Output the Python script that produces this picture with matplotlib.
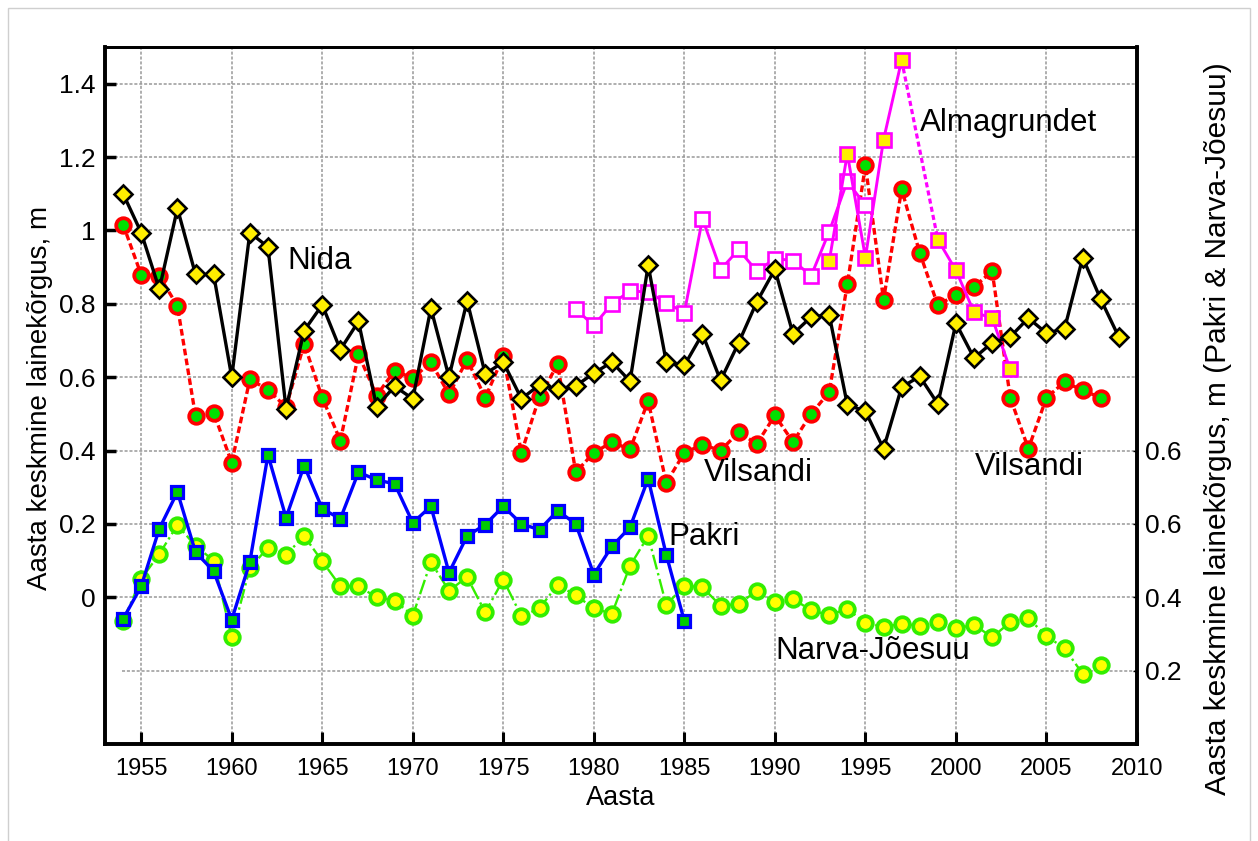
import numpy as np
import matplotlib
matplotlib.use("Agg")
import matplotlib.pyplot as plt
from matplotlib import font_manager
from matplotlib.patches import Rectangle

# ---------------- data ----------------
nida_years = list(range(1954, 2010))
nida = [1.10, 0.994, 0.84, 1.06, 0.88, 0.88, 0.60, 0.994, 0.955, 0.514,
        0.727, 0.797, 0.675, 0.752, 0.52, 0.575, 0.541, 0.788, 0.60, 0.808,
        0.609, 0.641, 0.541, 0.579, 0.568, 0.576, 0.611, 0.641, 0.589, 0.905,
        0.641, 0.632, 0.718, 0.591, 0.694, 0.805, 0.894, 0.718, 0.764, 0.77,
        0.525, 0.507, 0.405, 0.573, 0.602, 0.527, 0.747, 0.652, 0.694, 0.71,
        0.761, 0.72, 0.732, 0.926, 0.812, 0.709]

vilsandi_years = list(range(1954, 2009))
vilsandi = [1.016, 0.879, 0.876, 0.794, 0.494, 0.503, 0.367, 0.594, 0.566, 0.518,
            0.691, 0.544, 0.427, 0.662, 0.55, 0.618, 0.597, 0.641, 0.553, 0.648,
            0.544, 0.657, 0.394, 0.547, 0.635, 0.341, 0.394, 0.423, 0.403, 0.535,
            0.312, 0.394, 0.416, 0.40, 0.45, 0.418, 0.496, 0.423, 0.50, 0.559,
            0.853, 1.177, 0.811, 1.112, 0.939, 0.796, 0.825, 0.846, 0.889, 0.544,
            0.405, 0.544, 0.587, 0.564, 0.544]

alma1_years = list(range(1979, 1996))
alma1 = [0.785, 0.741, 0.80, 0.835, 0.832, 0.803, 0.776, 1.032, 0.893, 0.948,
         0.889, 0.923, 0.918, 0.876, 0.997, 1.134, 1.068]

alma2_years = list(range(1993, 2004))
alma2 = [0.916, 1.209, 0.926, 1.247, 1.464, np.nan, 0.975, 0.891, 0.777, 0.761, 0.621]
alma2_gap_years = [1997, 1999]

# right axis (Pakri & Narva-Jõesuu)
pakri_years = list(range(1954, 1986))
pakri = [0.341, 0.430, 0.587, 0.687, 0.523, 0.471, 0.339, 0.496, 0.788, 0.617,
         0.759, 0.641, 0.614, 0.741, 0.72, 0.709, 0.603, 0.648, 0.467, 0.567,
         0.598, 0.648, 0.60, 0.584, 0.636, 0.60, 0.462, 0.539, 0.591, 0.723,
         0.516, 0.335]

narva_years = list(range(1954, 2009))
narva = [0.335, 0.45, 0.518, 0.597, 0.54, 0.50, 0.291, 0.48, 0.535, 0.516,
         0.567, 0.498, 0.43, 0.43, 0.40, 0.391, 0.35, 0.496, 0.418, 0.455,
         0.359, 0.448, 0.348, 0.37, 0.434, 0.405, 0.37, 0.355, 0.486, 0.567,
         0.379, 0.432, 0.427, 0.377, 0.382, 0.417, 0.388, 0.396, 0.364, 0.352,
         0.368, 0.33, 0.32, 0.327, 0.323, 0.332, 0.315, 0.325, 0.291, 0.332,
         0.343, 0.294, 0.261, 0.191, 0.214]

x_ticks = [1955, 1960, 1965, 1970, 1975, 1980, 1985, 1990, 1995, 2000, 2005, 2010]
left_ticks = [0, 0.2, 0.4, 0.6, 0.8, 1.0, 1.2, 1.4]
left_ticklabels = ["0", "0.2", "0.4", "0.6", "0.8", "1", "1.2", "1.4"]
right_ticks = [0.2, 0.4, 0.6, 0.8]
right_ticklabels = ["0.2", "0.4", "0.6", "0.6"]

# ---------------- fonts ----------------
names = {f.name for f in font_manager.fontManager.ttflist}
base_font = "Liberation Sans" if "Liberation Sans" in names else "DejaVu Sans"
narrow_font = "Liberation Sans Narrow" if "Liberation Sans Narrow" in names else base_font
narrow_size = 20.5 if narrow_font != base_font else 17
plt.rcParams["font.family"] = [base_font, "DejaVu Sans"]

fig = plt.figure(figsize=(12.58, 8.41), dpi=100)
fig.patches.append(Rectangle((8 / 1258, -0.02), 1242 / 1258, 1 - 8 / 841 + 0.02,
                             transform=fig.transFigure, fill=False,
                             edgecolor="#cfcfcf", lw=1.0))

ax = fig.add_axes([105 / 1258, 1 - 744 / 841, 1032 / 1258, 697 / 841])
ax.set_xlim(1953, 2010)
ax.set_ylim(-0.4, 1.5)

# grid
gridkw = dict(color="#999999", lw=1.1, ls=(0, (2, 1.2)), zorder=0)
for xv in x_ticks[:-1]:
    ax.axvline(xv, **gridkw)
for yv in left_ticks:
    ax.axhline(yv, **gridkw)
ax.axhline(-0.2, xmin=0.016, **gridkw)

# series on left axis
ax.plot(vilsandi_years, vilsandi, color="#ff0000", lw=2.4, dashes=(2.0, 1.0),
        marker="o", ms=10.5, mfc="#00e000", mec="#ff0000", mew=2.7, zorder=3)
ax.plot(alma1_years, alma1, color="#ff00ff", lw=2.1, marker="s", ms=9.5,
        mfc="white", mec="#ff00ff", mew=1.9, zorder=4)
ax.plot(alma2_gap_years, [alma2[4], alma2[6]], color="#ff00ff", lw=2.3,
        dashes=(1.6, 1.0), zorder=4)
ax.plot(alma2_years, alma2, color="#ff00ff", lw=2.1, marker="s", ms=9.5,
        mfc="#ffee00", mec="#ff00ff", mew=1.9, zorder=4)
ax.plot(nida_years, nida, color="black", lw=2.4, marker="D", ms=9,
        mfc="#ffee00", mec="black", mew=1.9, zorder=5)

# series on right axis
ax2 = ax.twinx()
ax2.set_ylim(0, 1.9)
ax2.plot(narva_years, narva, color="#33ee00", lw=1.7, ls="-.",
         marker="o", ms=10.5, mfc="#ffff00", mec="#33ee00", mew=2.7, zorder=3)
ax2.plot(pakri_years, pakri, color="#0000ff", lw=2.4, marker="s", ms=9,
         mfc="#00cc00", mec="#0000ff", mew=2.3, zorder=4)

# ticks / labels
ax.set_xticks(x_ticks)
ax.set_xticklabels([str(v) for v in x_ticks], fontfamily=narrow_font,
                   fontsize=narrow_size)
ax.set_yticks(left_ticks)
ax.set_yticklabels(left_ticklabels, fontsize=19)
ax.tick_params(axis="x", direction="in", length=9, width=2.2, pad=10, top=False)
ax.tick_params(axis="y", direction="in", length=8, width=2.5, pad=7)
ax2.set_yticks(right_ticks)
ax2.set_yticklabels(right_ticklabels, fontsize=19)
ax2.tick_params(axis="y", direction="in", length=3, width=1, pad=6)

for sp in ["left", "bottom", "right"]:
    ax.spines[sp].set_linewidth(2.6)
    ax2.spines[sp].set_linewidth(2.6)
ax.spines["top"].set_linewidth(2.0)
ax2.spines["top"].set_linewidth(2.0)

ax.set_xlabel("Aasta", fontsize=19.5, labelpad=4)
fig.text(40 / 1258, 1 - 398 / 841, "Aasta keskmine lainekõrgus, m",
         rotation=90, ha="center", va="center", fontsize=20)
fig.text(1218 / 1258, 1 - 429 / 841,
         "Aasta keskmine lainekõrgus, m (Pakri & Narva-Jõesuu)",
         rotation=90, ha="center", va="center", fontsize=21.5)

# station labels
lab = dict(fontsize=22.5, ha="left", va="center", zorder=6)
ax.text(1963.1, 0.917, "Nida", **lab)
ax.text(1998.0, 1.294, "Almagrundet", **lab)
ax.text(1986.1, 0.339, "Vilsandi", **lab)
ax.text(2001.06, 0.356, "Vilsandi", **lab)
ax.text(1984.1, 0.165, "Pakri", **lab)
ax.text(1990.0, -0.146, "Narva-Jõesuu", **lab)

fig.savefig("out.png", dpi=100)
